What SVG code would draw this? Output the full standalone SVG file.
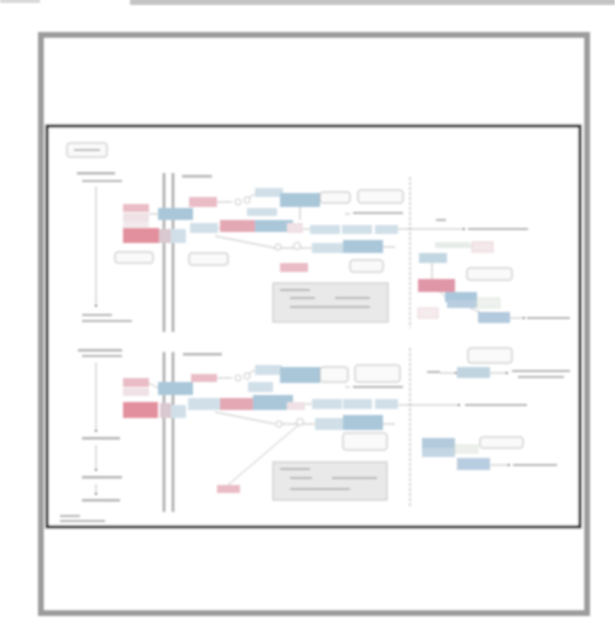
<svg xmlns="http://www.w3.org/2000/svg" width="615" height="620" viewBox="0 0 615 620">
<defs>
<filter id="soft" x="-5%" y="-5%" width="110%" height="110%"><feGaussianBlur stdDeviation="0.8"/></filter>
<filter id="soft2" x="-5%" y="-5%" width="110%" height="110%"><feGaussianBlur stdDeviation="1"/></filter>
<marker id="ah" viewBox="0 0 6 6" refX="5" refY="3" markerWidth="4" markerHeight="4" orient="auto"><path d="M0,0 L6,3 L0,6 z" fill="#666"/></marker>
</defs>
<style>
.pk{fill:#e3909e}
.lp{fill:#eabdc6}
.fp{fill:#efe1e5}
.bl{fill:#a9c7d9}
.lb{fill:#d1e0e8}
.gp{fill:#dac8d0}
.rr{fill:#fafafa;stroke:#a5a5a5;stroke-width:0.8}
.tx{fill:#b4b4b4}
.mem{stroke:#a8a8a8;stroke-width:2.5}
.ln{stroke:#a5a5a5;stroke-width:0.7;fill:none}
.dl{stroke:#a5a5a5;stroke-width:1;stroke-dasharray:3 2}
.lg{fill:#e9e9e9;stroke:#c0c0c0;stroke-width:1}
</style>
<rect width="615" height="620" fill="#fff"/>
<rect x="130" y="-3" width="485" height="8" fill="#c4c4c4" filter="url(#soft2)"/>
<rect x="0" y="-3" width="40" height="6" fill="#d8d8d8" filter="url(#soft2)"/>
<g id="frame" filter="url(#soft2)">
<rect x="41" y="35" width="546" height="578" fill="#fff" stroke="#9c9c9c" stroke-width="6"/>
<rect x="47" y="126" width="533" height="401" fill="#fff" stroke="#1a1a1a" stroke-width="3"/>
</g>
<g id="diagram" filter="url(#soft)">
<g id="connectors">
<line class="ln" x1="96" y1="186" x2="96" y2="307" marker-end="url(#ah)"/>
<line class="ln" x1="96" y1="362" x2="96" y2="432" marker-end="url(#ah)"/>
<line class="ln" x1="96" y1="445" x2="96" y2="471" marker-end="url(#ah)"/>
<line class="ln" x1="96" y1="484" x2="96" y2="495" marker-end="url(#ah)"/>
<line class="ln" x1="149" y1="214" x2="158" y2="214"/>
<line class="ln" x1="217" y1="202" x2="232" y2="202"/>
<line class="ln" x1="245" y1="200" x2="255" y2="194"/>
<line class="ln" x1="218" y1="228" x2="220" y2="228"/>
<line class="ln" x1="303" y1="229" x2="310" y2="229"/>
<line class="ln" x1="280" y1="248" x2="312" y2="248"/>
<line class="ln" x1="215" y1="236" x2="275" y2="248"/>
<line class="ln" x1="300" y1="207" x2="300" y2="220"/>
<line class="ln" x1="350" y1="214" x2="345" y2="214"/>
<line class="ln" x1="398" y1="229" x2="465" y2="229" marker-end="url(#ah)"/>
<line class="ln" x1="383" y1="247" x2="395" y2="247"/>
<line class="ln" x1="455" y1="246" x2="472" y2="246"/>
<line class="ln" x1="432" y1="263" x2="432" y2="279"/>
<line class="ln" x1="440" y1="292" x2="447" y2="298"/>
<line class="ln" x1="470" y1="308" x2="480" y2="312"/>
<line class="ln" x1="510" y1="318" x2="525" y2="318" marker-end="url(#ah)"/>
<line class="ln" x1="149" y1="383" x2="158" y2="388"/>
<line class="ln" x1="217" y1="378" x2="232" y2="378"/>
<line class="ln" x1="245" y1="376" x2="255" y2="370"/>
<line class="ln" x1="303" y1="404" x2="312" y2="404"/>
<line class="ln" x1="280" y1="424" x2="315" y2="424"/>
<line class="ln" x1="215" y1="412" x2="275" y2="424"/>
<line class="ln" x1="302" y1="422" x2="228" y2="485"/>
<line class="ln" x1="350" y1="387" x2="345" y2="387"/>
<line class="ln" x1="398" y1="405" x2="460" y2="405" marker-end="url(#ah)"/>
<line class="ln" x1="383" y1="424" x2="395" y2="424"/>
<line class="ln" x1="440" y1="373" x2="457" y2="373" marker-end="url(#ah)"/>
<line class="ln" x1="490" y1="373" x2="508" y2="373" marker-end="url(#ah)"/>
<line class="ln" x1="455" y1="449" x2="478" y2="449"/>
<line class="ln" x1="490" y1="465" x2="510" y2="465" marker-end="url(#ah)"/>
<line class="dl" x1="410" y1="177" x2="410" y2="328"/>
<line class="dl" x1="410" y1="348" x2="410" y2="508"/>
</g>
<g id="membranes">
<line class="mem" x1="164" y1="173" x2="164" y2="332"/>
<line class="mem" x1="173" y1="173" x2="173" y2="332"/>
<line class="mem" x1="164" y1="352" x2="164" y2="512"/>
<line class="mem" x1="173" y1="352" x2="173" y2="512"/>
</g>
<g id="title-box"><rect class="rr" x="67" y="143" width="40" height="14" rx="3"/><rect class="tx" x="74" y="149" width="26" height="2"/></g>
<g id="labels">
<rect class="tx" x="77" y="172" width="38" height="2.5"/>
<rect class="tx" x="82" y="180" width="40" height="2"/>
<rect class="tx" x="82" y="314" width="30" height="2"/>
<rect class="tx" x="82" y="320" width="50" height="2"/>
<rect class="tx" x="182" y="175" width="30" height="2.5"/>
<rect class="tx" x="78" y="349" width="44" height="2.5"/>
<rect class="tx" x="82" y="355" width="40" height="2"/>
<rect class="tx" x="82" y="437" width="38" height="2.5"/>
<rect class="tx" x="82" y="476" width="40" height="2.5"/>
<rect class="tx" x="82" y="499" width="38" height="2.5"/>
<rect class="tx" x="183" y="353" width="39" height="2.5"/>
<rect class="tx" x="60" y="515" width="20" height="2"/>
<rect class="tx" x="60" y="520" width="45" height="2"/>
<rect class="tx" x="353" y="212" width="50" height="2"/>
<rect class="tx" x="436" y="219" width="10" height="2"/>
<rect class="tx" x="468" y="228" width="60" height="2"/>
<rect class="tx" x="527" y="317" width="43" height="2"/>
<rect class="tx" x="353" y="386" width="50" height="2"/>
<rect class="tx" x="427" y="371" width="13" height="2"/>
<rect class="tx" x="512" y="370" width="58" height="2"/>
<rect class="tx" x="518" y="376" width="46" height="2"/>
<rect class="tx" x="465" y="404" width="62" height="2"/>
<rect class="tx" x="513" y="464" width="44" height="2"/>
</g>
<g id="top-nodes">
<rect class="lp" x="123" y="204" width="26" height="8"/>
<rect class="fp" x="123" y="213" width="26" height="8"/>
<rect class="fp" x="123" y="221" width="26" height="7" style="fill:#f2eaec"/>
<rect class="pk" x="123" y="228" width="36" height="15"/>
<rect class="bl" x="158" y="208" width="35" height="12"/>
<rect class="gp" x="159" y="229" width="12" height="14"/>
<rect class="lb" x="171" y="229" width="15" height="14"/>
<rect class="lp" x="189" y="197" width="28" height="10"/>
<rect class="lb" x="190" y="223" width="28" height="10"/>
<rect class="pk" x="220" y="220" width="35" height="12" style="fill:#e3a8b4"/>
<rect class="bl" x="255" y="220" width="38" height="12"/>
<rect class="lb" x="255" y="188" width="28" height="9"/>
<rect class="bl" x="280" y="193" width="40" height="14"/>
<rect class="lb" x="247" y="208" width="30" height="8"/>
<rect class="fp" x="287" y="223" width="16" height="10"/>
<rect class="lb" x="310" y="225" width="30" height="9"/>
<rect class="lb" x="342" y="225" width="30" height="9"/>
<rect class="lb" x="375" y="225" width="23" height="9"/>
<rect class="lb" x="312" y="243" width="31" height="10"/>
<rect class="bl" x="343" y="240" width="40" height="13"/>
<rect class="lp" x="280" y="263" width="28" height="9"/>
<circle cx="238" cy="202" r="3" fill="#fff" stroke="#999" stroke-width="0.6"/>
<circle cx="247" cy="200" r="3" fill="#fff" stroke="#999" stroke-width="0.6"/>
<circle cx="278" cy="247" r="3" fill="#fff" stroke="#999" stroke-width="0.6"/>
<circle cx="297" cy="246" r="3.5" fill="#fff" stroke="#999" stroke-width="0.6"/>
<rect class="rr" x="115" y="252" width="38" height="11" rx="3"/>
<rect class="rr" x="189" y="253" width="39" height="12" rx="3"/>
<rect class="rr" x="320" y="192" width="30" height="11" rx="3"/>
<rect class="rr" x="358" y="190" width="45" height="13" rx="3"/>
<rect class="rr" x="350" y="260" width="33" height="12" rx="3"/>
<rect class="lg" x="273" y="283" width="115" height="39"/>
<rect class="tx" x="280" y="289" width="30" height="2"/>
<rect class="tx" x="290" y="297" width="25" height="2"/>
<rect class="tx" x="335" y="297" width="35" height="2"/>
<rect class="tx" x="290" y="306" width="80" height="2"/>
<rect x="435" y="242" width="35" height="6" fill="#e6ece8"/>
<rect x="472" y="242" width="21" height="10" fill="#f3e8ea" stroke="#dcbcc4" stroke-width="0.6"/>
<rect x="419" y="253" width="28" height="10" fill="#c3d7e2"/>
<rect class="rr" x="467" y="268" width="45" height="12" rx="3"/>
<rect x="418" y="279" width="37" height="13" fill="#df97a7"/>
<rect x="445" y="292" width="32" height="10" fill="#a9c6da"/>
<rect x="447" y="300" width="31" height="8" fill="#b9cde0"/>
<rect x="477" y="298" width="23" height="10" fill="#eef1ee" stroke="#cfe0c8" stroke-width="0.6"/>
<rect x="418" y="308" width="20" height="10" fill="#f5eced" stroke="#dcc0c6" stroke-width="0.6"/>
<rect x="478" y="312" width="32" height="11" fill="#b3c9dd"/>
</g>
<g id="bottom-nodes">
<rect class="lp" x="123" y="378" width="26" height="9"/>
<rect class="fp" x="123" y="388" width="26" height="8"/>
<rect class="pk" x="123" y="402" width="35" height="16"/>
<rect class="bl" x="158" y="382" width="35" height="13"/>
<rect class="gp" x="160" y="403" width="11" height="15"/>
<rect class="lb" x="171" y="405" width="15" height="13"/>
<rect class="lp" x="191" y="374" width="26" height="8"/>
<rect class="lb" x="188" y="398" width="32" height="12"/>
<rect class="pk" x="220" y="398" width="33" height="12" style="fill:#e3a8b4"/>
<rect class="bl" x="253" y="395" width="40" height="15"/>
<rect class="lb" x="255" y="365" width="27" height="10"/>
<rect class="bl" x="280" y="367" width="40" height="16"/>
<rect class="lb" x="248" y="382" width="25" height="10"/>
<rect class="fp" x="287" y="402" width="18" height="8"/>
<rect class="lb" x="312" y="399" width="30" height="10"/>
<rect class="lb" x="343" y="399" width="29" height="10"/>
<rect class="lb" x="375" y="399" width="23" height="10"/>
<rect class="lb" x="315" y="418" width="28" height="12"/>
<rect class="bl" x="343" y="415" width="40" height="15"/>
<circle cx="238" cy="378" r="3" fill="#fff" stroke="#999" stroke-width="0.6"/>
<circle cx="247" cy="376" r="3" fill="#fff" stroke="#999" stroke-width="0.6"/>
<circle cx="279" cy="424" r="3" fill="#fff" stroke="#999" stroke-width="0.6"/>
<circle cx="300" cy="422" r="3.5" fill="#fff" stroke="#999" stroke-width="0.6"/>
<rect class="rr" x="320" y="367" width="28" height="15" rx="3"/>
<rect class="rr" x="355" y="365" width="45" height="17" rx="3"/>
<rect class="rr" x="343" y="433" width="44" height="17" rx="3"/>
<rect class="lp" x="217" y="485" width="23" height="8"/>
<rect class="lg" x="273" y="462" width="114" height="38"/>
<rect class="tx" x="280" y="468" width="30" height="2"/>
<rect class="tx" x="290" y="477" width="22" height="2"/>
<rect class="tx" x="332" y="477" width="45" height="2"/>
<rect class="tx" x="290" y="488" width="60" height="2"/>
<rect class="rr" x="468" y="348" width="44" height="15" rx="3"/>
<rect x="457" y="367" width="33" height="11" fill="#c0d4e0"/>
<rect x="422" y="438" width="33" height="10" fill="#b3cadc"/>
<rect x="422" y="448" width="33" height="9" fill="#c3d5e3"/>
<rect x="455" y="445" width="23" height="8" fill="#eef0ee" stroke="#cfe0c8" stroke-width="0.6"/>
<rect class="rr" x="480" y="437" width="43" height="11" rx="3"/>
<rect x="457" y="458" width="33" height="12" fill="#b9cde0"/>
</g>
</g>
</svg>
